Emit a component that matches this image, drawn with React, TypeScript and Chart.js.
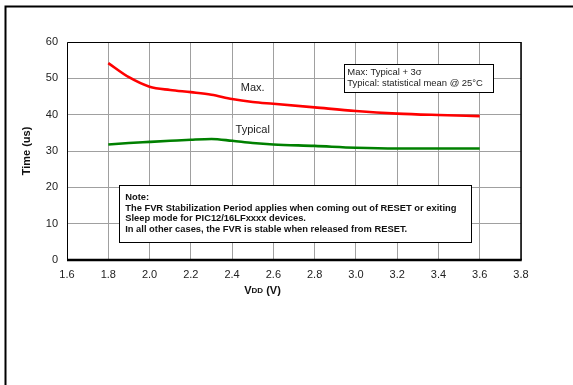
import React, { useEffect, useRef } from "react";
import { Chart, registerables } from "chart.js";

Chart.register(...registerables);

const vdd = [1.8, 1.9, 2.0, 2.1, 2.2, 2.3, 2.4, 2.5, 2.6, 2.8, 3.0, 3.2, 3.4, 3.6];
const maxSeries = [54.2, 50.3, 47.7, 46.8, 46.2, 45.5, 44.3, 43.5, 43.0, 42.0, 41.0, 40.3, 39.9, 39.6];
const typicalSeries = [31.8, 32.2, 32.5, 32.8, 33.1, 33.3, 32.8, 32.2, 31.8, 31.4, 30.9, 30.7, 30.7, 30.7];
const xTicks = [1.6, 1.8, 2.0, 2.2, 2.4, 2.6, 2.8, 3.0, 3.2, 3.4, 3.6, 3.8];
const yTicks = [0, 10, 20, 30, 40, 50, 60];
const legendLines = ["Max: Typical + 3\u03c3", "Typical: statistical mean @ 25\u00b0C"];
const noteLines = [
  "Note:",
  "The FVR Stabilization Period applies when coming out of RESET or exiting",
  "Sleep mode for PIC12/16LFxxxx devices.",
  "In all other cases, the FVR is stable when released from RESET.",
];

const FONT = "'Liberation Sans', Arial, sans-serif";

const decorPlugin = {
  id: "decor",
  beforeDraw(chart: any) {
    const ctx = chart.ctx;
    ctx.save();
    ctx.fillStyle = "#fff";
    ctx.fillRect(0, 0, chart.width, chart.height);
    ctx.strokeStyle = "#000";
    ctx.lineWidth = 2;
    ctx.beginPath();
    ctx.moveTo(5.5, 400);
    ctx.lineTo(5.5, 6.5);
    ctx.lineTo(600, 6.5);
    ctx.stroke();
    ctx.restore();
  },
  afterDraw(chart: any) {
    const ctx = chart.ctx;
    const xs = chart.scales.x;
    const ys = chart.scales.y;
    const a = chart.chartArea;
    ctx.save();
    ctx.strokeStyle = "#000";
    ctx.lineWidth = 1;
    ctx.beginPath();
    ctx.moveTo(a.left + 0.5, a.bottom);
    ctx.lineTo(a.left + 0.5, a.top + 0.5);
    ctx.lineTo(a.right, a.top + 0.5);
    ctx.stroke();
    ctx.lineWidth = 1.5;
    ctx.beginPath();
    ctx.moveTo(a.right, a.top);
    ctx.lineTo(a.right, a.bottom);
    ctx.stroke();
    ctx.lineWidth = 2.5;
    ctx.beginPath();
    ctx.moveTo(a.left, a.bottom);
    ctx.lineTo(a.right + 0.75, a.bottom);
    ctx.stroke();

    // series labels
    ctx.fillStyle = "#fff";
    const tx = xs.getPixelForValue(2.5);
    const ty = ys.getPixelForValue(35.8);
    ctx.fillRect(tx - 20, ty - 12, 40, 21);
    ctx.fillStyle = "#222";
    ctx.font = `11px ${FONT}`;
    ctx.textAlign = "center";
    ctx.textBaseline = "middle";
    ctx.fillText("Max.", xs.getPixelForValue(2.5), ys.getPixelForValue(47.3));
    ctx.fillText("Typical", tx, ty);

    // legend box
    const lx0 = xs.getPixelForValue(2.944);
    const lx1 = xs.getPixelForValue(3.666);
    const ly0 = ys.getPixelForValue(53.9);
    const ly1 = ys.getPixelForValue(46.2);
    ctx.fillStyle = "#fff";
    ctx.fillRect(lx0, ly0, lx1 - lx0, ly1 - ly0);
    ctx.strokeStyle = "#000";
    ctx.lineWidth = 1;
    ctx.strokeRect(Math.round(lx0) + 0.5, Math.round(ly0) + 0.5, Math.round(lx1 - lx0), Math.round(ly1 - ly0));
    ctx.fillStyle = "#222";
    ctx.font = `9.45px ${FONT}`;
    ctx.textAlign = "left";
    legendLines.forEach((t, i) => ctx.fillText(t, lx0 + 3, ly0 + 8.5 + i * 10.5));

    // note box
    const nx0 = xs.getPixelForValue(1.853);
    const nx1 = xs.getPixelForValue(3.559);
    const ny0 = ys.getPixelForValue(20.64);
    const ny1 = ys.getPixelForValue(4.95);
    ctx.fillStyle = "#fff";
    ctx.fillRect(nx0, ny0, nx1 - nx0, ny1 - ny0);
    ctx.strokeStyle = "#000";
    ctx.strokeRect(Math.round(nx0) + 0.5, Math.round(ny0) + 0.5, Math.round(nx1 - nx0), Math.round(ny1 - ny0));
    ctx.fillStyle = "#111";
    ctx.font = `bold 9.35px ${FONT}`;
    noteLines.forEach((t, i) =>
      ctx.fillText(t, nx0 + 6, i === 0 ? ny0 + 12 : ny0 + 23 + (i - 1) * 10.5)
    );

    // axis titles
    ctx.fillStyle = "#111";
    ctx.textBaseline = "middle";
    const parts = [
      { t: "V", f: `bold 11px ${FONT}` },
      { t: "DD", f: `bold 8px ${FONT}` },
      { t: " (V)", f: `bold 11px ${FONT}` },
    ];
    let total = 0;
    parts.forEach((p) => {
      ctx.font = p.f;
      total += ctx.measureText(p.t).width;
    });
    let x = 262.5 - total / 2;
    ctx.textAlign = "left";
    parts.forEach((p) => {
      ctx.font = p.f;
      ctx.fillText(p.t, x, p.t === "DD" ? 291 : 290.5);
      x += ctx.measureText(p.t).width;
    });

    ctx.translate(27, (a.top + a.bottom) / 2);
    ctx.rotate(-Math.PI / 2);
    ctx.textAlign = "center";
    ctx.font = `bold 11px ${FONT}`;
    ctx.fillText("Time (us)", 0, 0);
    ctx.restore();
  },
};

export default function App() {
  const ref = useRef<HTMLCanvasElement>(null);
  useEffect(() => {
    if (!ref.current) return;
    const chart = new Chart(ref.current, {
      type: "line",
      data: {
        datasets: [
          {
            label: "Max.",
            data: vdd.map((v, i) => ({ x: v, y: maxSeries[i] })),
            borderColor: "#ff0000",
            borderWidth: 2.6,
            pointRadius: 0,
            cubicInterpolationMode: "monotone",
          },
          {
            label: "Typical",
            data: vdd.map((v, i) => ({ x: v, y: typicalSeries[i] })),
            borderColor: "#008000",
            borderWidth: 2.6,
            pointRadius: 0,
            cubicInterpolationMode: "monotone",
          },
        ],
      },
      options: {
        animation: false,
        responsive: false,
        devicePixelRatio: 1,
        layout: { padding: { left: 0, top: 42, right: 52, bottom: 85 } },
        plugins: { legend: { display: false }, tooltip: { enabled: false } },
        scales: {
          x: {
            type: "linear",
            min: 1.6,
            max: 3.8,
            afterBuildTicks: (s: any) => {
              s.ticks = xTicks.map((v) => ({ value: v }));
            },
            afterFit: (s: any) => {
              s.height = 40;
            },
            ticks: {
              callback: (v: any) => Number(v).toFixed(1),
              color: "#222",
              font: { family: FONT, size: 11 },
              padding: 8,
              maxRotation: 0,
            },
            grid: { color: "#a0a0a0", lineWidth: 1, drawTicks: false },
            border: { display: false },
          },
          y: {
            type: "linear",
            min: 0,
            max: 60,
            afterBuildTicks: (s: any) => {
              s.ticks = yTicks.map((v) => ({ value: v }));
            },
            afterFit: (s: any) => {
              s.width = 67;
            },
            ticks: {
              color: "#222",
              font: { family: FONT, size: 11 },
              padding: 9,
            },
            grid: { color: "#a0a0a0", lineWidth: 1, drawTicks: false },
            border: { display: false },
          },
        },
      },
      plugins: [decorPlugin],
    } as any);
    return () => chart.destroy();
  }, []);
  return (
    <div style={{ position: "fixed", left: 0, top: 0, width: 573, height: 385 }}>
      <canvas ref={ref} width={573} height={385} style={{ width: 573, height: 385 }} />
    </div>
  );
}
